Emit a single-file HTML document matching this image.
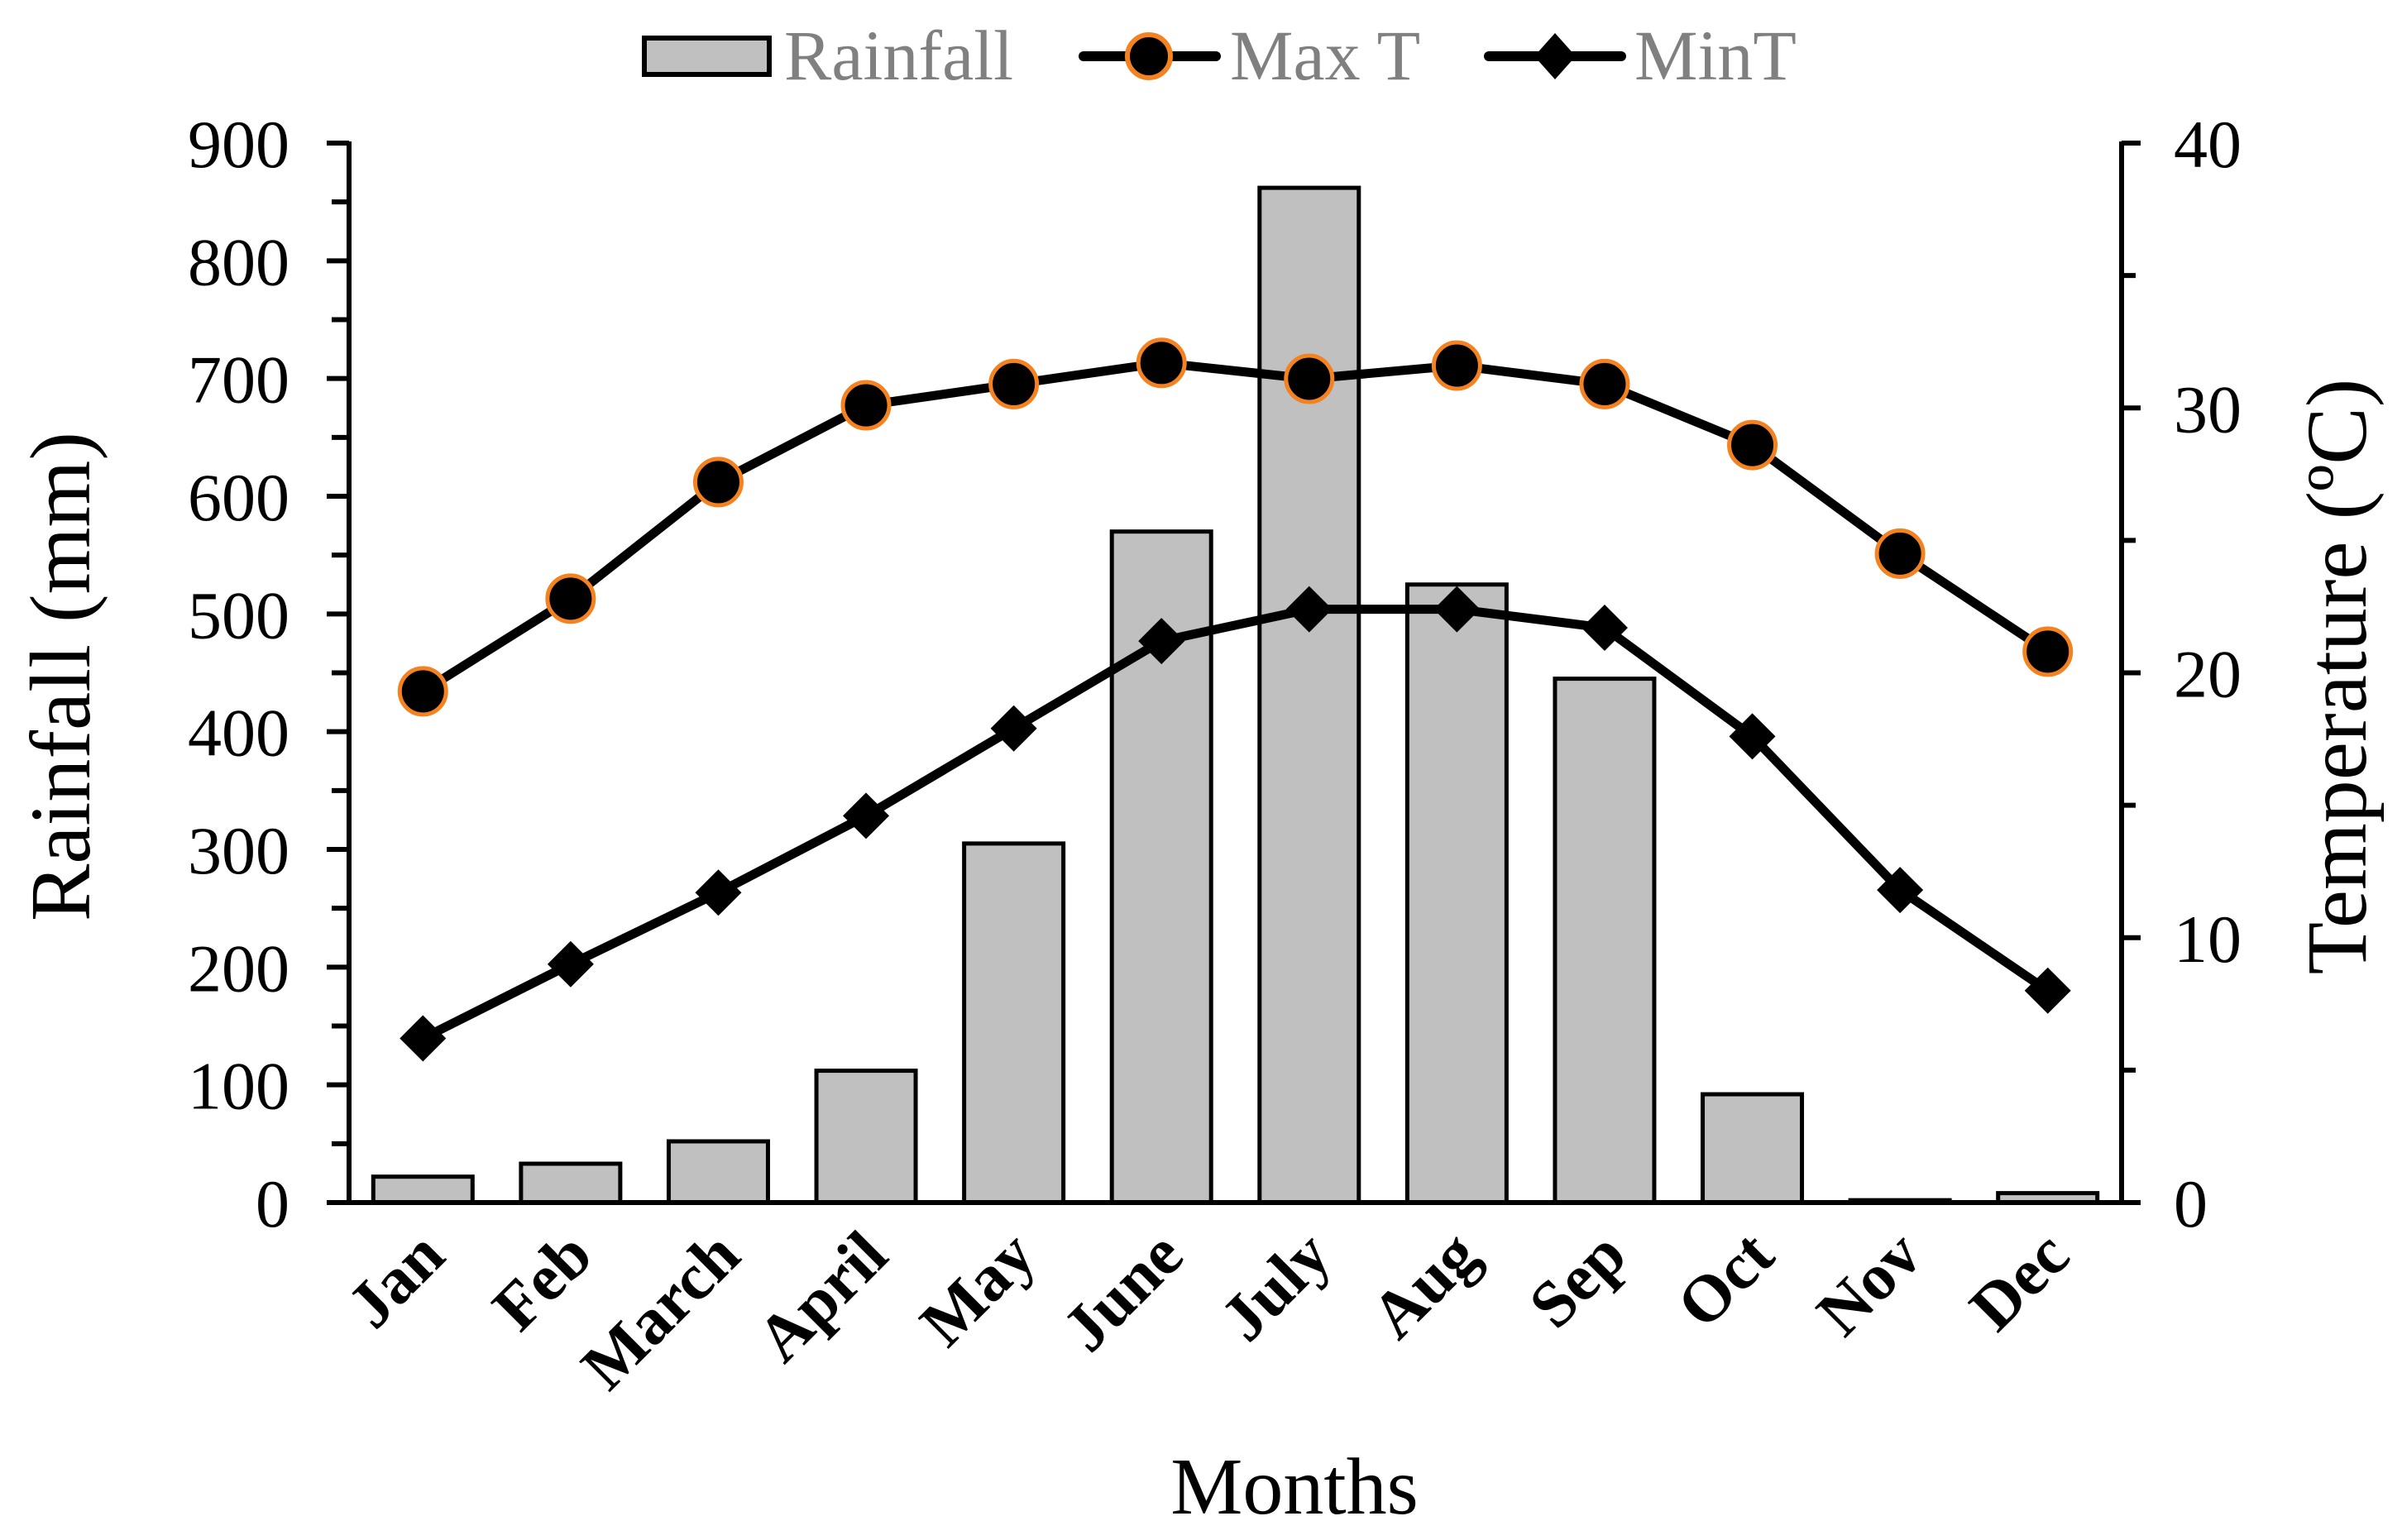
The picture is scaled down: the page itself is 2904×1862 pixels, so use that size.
<!DOCTYPE html>
<html><head><meta charset="utf-8"><style>
body{margin:0;background:#fff}
svg{display:block}
text{font-family:"Liberation Serif",serif}
</style></head><body>
<svg id="chart" width="2904" height="1862" viewBox="0 0 2904 1862">
<g id="legend">
 <g>
  <rect x="779" y="46" width="151" height="44" fill="#c0c0c0" stroke="#000" stroke-width="6"/>
  <text x="948" y="96" font-size="86" fill="#808080">Rainfall</text>
 </g>
 <g>
  <line x1="1310" y1="68" x2="1470" y2="68" stroke="#000" stroke-width="12" stroke-linecap="round"/>
  <circle cx="1389" cy="68" r="26" fill="#000" stroke="#f58220" stroke-width="6"/>
  <text x="1487" y="96" font-size="86" fill="#808080">Max T</text>
 </g>
 <g>
  <line x1="1800" y1="68" x2="1960" y2="68" stroke="#000" stroke-width="12" stroke-linecap="round"/>
  <polygon points="1880,40 1905,68 1880,96 1855,68" fill="#000"/>
  <text x="1976" y="96" font-size="86" fill="#808080">MinT</text>
 </g>
</g>
<g id="plot"></g>
<text x="108" y="818" font-size="104" text-anchor="middle" transform="rotate(-90 108 818)">Rainfall (mm)</text>
<text x="2860" y="818" font-size="104" text-anchor="middle" transform="rotate(-90 2860 818)">Temperature (ºC)</text>
<text x="1565" y="1830" font-size="98" text-anchor="middle">Months</text>
</svg>
<script>
const months = ["Jan","Feb","March","April","May","June","July","Aug","Sep","Oct","Nov","Dec"];
const rainfall = [22,33,52,112,305,570,862,525,445,92,2,8];
const maxT = [19.3,22.8,27.2,30.1,30.9,31.7,31.1,31.6,30.9,28.6,24.5,20.8];
const minT = [6.2,9.0,11.7,14.6,17.9,21.2,22.4,22.4,21.7,17.6,11.8,8.0];
const rainTicks = [0,100,200,300,400,500,600,700,800,900];
const tempTicks = [0,10,20,30,40];

const NS="http://www.w3.org/2000/svg";
const L=422,R=2565,T=173,B=1454;
const bw=(R-L)/months.length;
const xc=i=>L+bw*(i+0.5);
const yR=v=>B-(v/900)*(B-T);
const yT=v=>B-(v/40)*(B-T);
const g=document.getElementById('plot');
function mk(tag,attrs){const e=document.createElementNS(NS,tag);for(const k in attrs)e.setAttribute(k,attrs[k]);g.appendChild(e);return e;}

rainfall.forEach((v,i)=>{
 const r=mk('rect',{x:xc(i)-60,y:yR(v),width:120,height:B-yR(v),fill:'#c0c0c0',stroke:'#000','stroke-width':5});
 
 
});
const ax1=mk('line',{x1:L,y1:T-2,x2:L,y2:B,stroke:'#000','stroke-width':6});


const ax2=mk('line',{x1:R,y1:T-2,x2:R,y2:B,stroke:'#000','stroke-width':6});


const ax3=mk('line',{x1:395,y1:B,x2:2588,y2:B,stroke:'#000','stroke-width':6});


rainTicks.forEach(v=>{
 mk('line',{x1:395,y1:yR(v),x2:L,y2:yR(v),stroke:'#000','stroke-width':6});
 if(v<900) mk('line',{x1:401,y1:yR(v+50),x2:L,y2:yR(v+50),stroke:'#000','stroke-width':6});
 const t=mk('text',{x:350,y:yR(v)+29,'font-size':82,'text-anchor':'end'});t.textContent=v;
 
 
});
tempTicks.forEach(v=>{
 mk('line',{x1:R,y1:yT(v),x2:2588,y2:yT(v),stroke:'#000','stroke-width':6});
 if(v<40) mk('line',{x1:R,y1:yT(v+5),x2:2582,y2:yT(v+5),stroke:'#000','stroke-width':6});
 const t=mk('text',{x:2628,y:yT(v)+29,'font-size':82});t.textContent=v;
 
 
});
months.forEach((m,i)=>{
 const x=xc(i)+30,y=1522;
 const t=mk('text',{x:x,y:y,'font-size':80,'font-weight':'bold','text-anchor':'end',transform:`rotate(-45 ${x} ${y})`});
 t.textContent=m;
 
 
});
const lmax=mk('polyline',{points:maxT.map((v,i)=>xc(i)+','+yT(v)).join(' '),fill:'none',stroke:'#000','stroke-width':11,'stroke-linejoin':'round'});


const lmin=mk('polyline',{points:minT.map((v,i)=>xc(i)+','+yT(v)).join(' '),fill:'none',stroke:'#000','stroke-width':11,'stroke-linejoin':'round'});


maxT.forEach((v,i)=>{
 const c=mk('circle',{cx:xc(i),cy:yT(v),r:28,fill:'#000',stroke:'#f58220','stroke-width':5});
 
 
});
minT.forEach((v,i)=>{
 const x=xc(i),y=yT(v);
 const p=mk('polygon',{points:`${x},${y-28} ${x+28},${y} ${x},${y+28} ${x-28},${y}`,fill:'#000'});
 
 
});
</script>
</body></html>
